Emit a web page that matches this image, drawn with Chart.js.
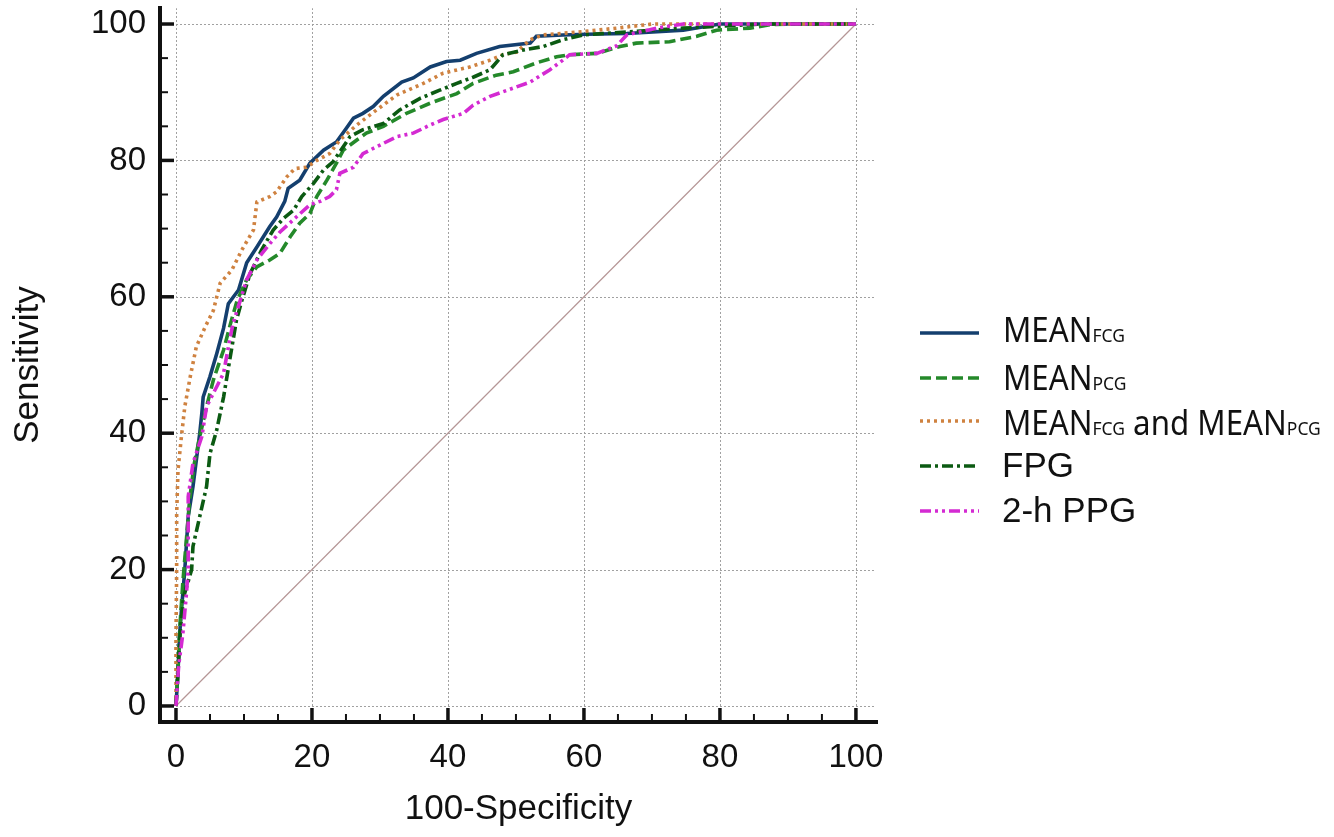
<!DOCTYPE html>
<html>
<head>
<meta charset="utf-8">
<script src="https://cdn.jsdelivr.net/npm/chart.js@4.4.1/dist/chart.umd.min.js"></script>
<style>
  html, body { margin: 0; padding: 0; background: #fff; }
  #wrap { position: relative; width: 1334px; height: 837px; }
  #roc { position: absolute; left: 0; top: 0; }
  #legend { position: absolute; left: 0; top: 0; pointer-events: none; }
</style>
</head>
<body>
<div id="wrap">
  <canvas id="roc" width="1334" height="837"></canvas>
  <svg id="legend" width="1334" height="837"></svg>
</div>
<script>
// ROC curves: x = 100-Specificity, y = Sensitivity
const fcgX = [0, 0.3, 0.5, 0.8, 1.3, 1.8, 2.5, 3.0, 3.5, 3.8, 4.0, 5.0, 6.0, 7.0, 7.7, 9.2, 10.4, 11.9, 13.8, 14.8, 16.0, 16.5, 18.2, 19.7, 21.7, 23.6, 24.9, 26.1, 27.5, 29.0, 30.5, 33.2, 34.9, 37.4, 39.8, 41.8, 44.2, 47.6, 52.1, 53.0, 56.9, 60.4, 66.3, 74.6, 80, 100];
const fcgY = [0, 5, 10, 14, 20, 27.8, 32.2, 36.1, 40, 42.9, 45.3, 48.3, 51.7, 55.4, 59, 61, 65, 67.3, 70.3, 71.7, 74, 75.9, 77.1, 79.6, 81.5, 82.7, 84.5, 86.2, 86.9, 87.9, 89.4, 91.5, 92.1, 93.7, 94.5, 94.7, 95.7, 96.7, 97.2, 98.2, 98.4, 98.5, 98.6, 99.1, 100, 100];

const pcgX = [0, 0.3, 0.6, 1.0, 1.5, 2.0, 2.7, 3.5, 4.5, 5.5, 7.0, 8.0, 9.0, 10.4, 11.9, 13.8, 15.3, 16.8, 18.2, 19.7, 20.7, 22.2, 23.6, 24.6, 26.6, 28, 30.5, 33.9, 37.4, 41.3, 43.7, 47.1, 49.6, 53, 56, 57.9, 61.9, 65.3, 67.7, 72.6, 76.6, 79.5, 84.4, 87.4, 90, 100];
const pcgY = [0, 6, 12, 18, 24, 30.2, 35.6, 39.5, 43.9, 47.8, 52.2, 56, 59.5, 62.5, 64.4, 65.4, 66.4, 68.8, 70.8, 72.2, 74.7, 77.1, 79.6, 81.5, 83, 84, 85, 86.9, 88.4, 89.8, 91.3, 92.5, 93, 94.3, 95.2, 95.5, 95.7, 96.7, 97.2, 97.4, 98.2, 99.1, 99.4, 99.9, 100, 100];

const bothX = [0, 0, 0.1, 0.1, 0.3, 0.8, 1.3, 2.1, 3.0, 4.4, 5.5, 6.5, 8.2, 9.7, 11.4, 11.9, 13.8, 14.8, 16.3, 17.5, 19.2, 20.7, 22.6, 24.1, 26.6, 29.5, 32.5, 36.4, 39.3, 43.2, 46.2, 48.1, 50.1, 52.1, 54, 59.9, 64.9, 70, 100];
const bothY = [0, 10, 20, 28.2, 34.6, 39.5, 43.9, 48.3, 52.7, 55.8, 58, 62, 63.9, 66.9, 69.8, 73.9, 74.7, 75.4, 77.6, 78.8, 79, 80, 81, 83, 85.2, 87.4, 89.6, 91.3, 92.8, 93.7, 94.7, 95.5, 95.9, 97.7, 98.4, 98.9, 99.4, 100, 100];

const fpgX = [0, 0.3, 0.6, 1.1, 2.3, 2.5, 3.5, 4.5, 5.0, 6.0, 7.0, 7.9, 8.9, 9.7, 10.9, 12.6, 14.3, 15.8, 17.3, 18.5, 20.2, 21.7, 23.1, 24.6, 25.6, 27.5, 30.5, 32.9, 35.9, 38.8, 41.3, 43.7, 46.2, 48.1, 51.1, 54, 56.9, 59.9, 74.6, 86.3, 100];
const fpgY = [0, 5, 10.5, 15.9, 20, 23.4, 27.8, 32.2, 37, 40.5, 45.3, 50.7, 56.6, 59.5, 63.4, 66.9, 69.8, 71.5, 72.7, 74.7, 76.6, 78.6, 79.8, 82, 83.5, 84.5, 85.4, 87.4, 89.1, 90.3, 91.3, 92.2, 93.3, 95.5, 96.2, 96.7, 97.7, 98.4, 99.4, 100, 100];

const ppgX = [0, 0.4, 1.0, 1.5, 1.8, 1.8, 1.8, 2.5, 3.8, 4.5, 7.0, 7.9, 8.4, 10.4, 11.9, 13.8, 15.3, 17.7, 19.7, 21.2, 22.6, 23.6, 24.1, 26.1, 27.5, 30.5, 32.5, 34.9, 37.4, 39.3, 42.3, 43.7, 46.2, 49.6, 52.1, 55, 56.9, 57.9, 61.9, 64.8, 66.3, 70.7, 74.6, 100];
const ppgY = [0, 6, 10.5, 16, 20, 25, 30.7, 35.6, 39.5, 43.9, 48.8, 53.7, 56.1, 62.5, 65.4, 67.8, 69.5, 71.7, 73.5, 74, 74.7, 75.7, 78.1, 79, 81, 82.5, 83.5, 84, 85.2, 86, 86.9, 88.1, 89.4, 90.6, 91.5, 93.3, 94.7, 95.5, 95.7, 96.8, 98.4, 99.4, 100, 100];

const refX = [0, 100];
const refY = [0, 100];

const tickValues = [0, 20, 40, 60, 80, 100];
const seriesNames = ['MEAN_FCG', 'MEAN_PCG', 'MEAN_FCG and MEAN_PCG', 'FPG', '2-h PPG'];

const colors = ['#143f6e', '#24892a', '#cf8240', '#0b5a12', '#d42ad2'];
const dashes = [[], [11, 5], [3, 4], [11, 4, 3, 4], [11, 4, 3, 4, 3, 4]];

const pts = (xs, ys) => xs.map((x, i) => ({ x: x, y: ys[i] }));

const curves = [[fcgX, fcgY], [pcgX, pcgY], [bothX, bothY], [fpgX, fpgY], [ppgX, ppgY]];

const datasets = curves.map((c, i) => ({
  label: seriesNames[i],
  data: pts(c[0], c[1]),
  showLine: true,
  borderColor: colors[i],
  borderWidth: 3.6,
  borderDash: dashes[i],
  pointRadius: 0,
  tension: 0,
  order: 5 - i
}));
datasets.push({
  label: 'reference',
  data: pts(refX, refY),
  showLine: true,
  borderColor: '#b59696',
  borderWidth: 1.2,
  pointRadius: 0,
  order: 10
});

// dotted grid that starts at 0, plus inward tick marks like the original
const gridAndTicks = {
  id: 'gridAndTicks',
  beforeDatasetsDraw(chart) {
    const { ctx, scales: { x, y } } = chart;
    ctx.save();
    ctx.strokeStyle = '#a0a0a0';
    ctx.lineWidth = 1;
    ctx.setLineDash([2, 2]);
    tickValues.forEach(v => {
      const px = Math.round(x.getPixelForValue(v)) + 0.5;
      ctx.beginPath();
      ctx.moveTo(px, y.getPixelForValue(0));
      ctx.lineTo(px, y.getPixelForValue(102.3));
      ctx.stroke();
      const py = Math.round(y.getPixelForValue(v)) + 0.5;
      ctx.beginPath();
      ctx.moveTo(x.getPixelForValue(0), py);
      ctx.lineTo(x.getPixelForValue(102.8), py);
      ctx.stroke();
    });
    ctx.restore();
  },
  afterDraw(chart) {
    const { ctx, chartArea, scales: { x, y } } = chart;
    ctx.save();
    ctx.strokeStyle = '#111';
    for (let v = 0; v <= 100; v += 5) {
      const major = v % 20 === 0;
      ctx.lineWidth = major ? 3.5 : 2;
      const len = major ? 14 : 8;
      const py = y.getPixelForValue(v);
      ctx.beginPath();
      ctx.moveTo(chartArea.left, py);
      ctx.lineTo(chartArea.left + len, py);
      ctx.stroke();
      const px = x.getPixelForValue(v);
      ctx.beginPath();
      ctx.moveTo(px, chartArea.bottom);
      ctx.lineTo(px, chartArea.bottom - len);
      ctx.stroke();
    }
    ctx.restore();
  }
};

const fixTicks = scale => { scale.ticks = tickValues.map(v => ({ value: v })); };
const tickFont = { family: 'Liberation Sans, Arial, sans-serif', size: 33 };
const titleFont = { family: 'Liberation Sans, Arial, sans-serif', size: 35 };

new Chart(document.getElementById('roc').getContext('2d'), {
  type: 'scatter',
  data: { datasets: datasets },
  options: {
    responsive: false,
    animation: false,
    layout: { padding: { left: 0, right: 457, top: 8, bottom: 0 } },
    plugins: { legend: { display: false }, tooltip: { enabled: false } },
    scales: {
      x: {
        type: 'linear',
        min: -2.35,
        max: 103.1,
        afterBuildTicks: fixTicks,
        afterFit: s => { s.height = 115; s.paddingLeft = 0; s.paddingRight = 0; },
        grid: { display: false, drawTicks: false },
        border: { display: true, color: '#111', width: 4 },
        ticks: { color: '#111', font: tickFont, padding: 16, maxRotation: 0 },
        title: { display: true, text: '100-Specificity', color: '#111', font: titleFont, padding: { top: 0, bottom: 7 } }
      },
      y: {
        type: 'linear',
        min: -2.35,
        max: 102.35,
        afterBuildTicks: fixTicks,
        afterFit: s => { s.width = 160; s.paddingTop = 0; s.paddingBottom = 0; },
        grid: { display: false, drawTicks: false },
        border: { display: true, color: '#111', width: 4 },
        ticks: { color: '#111', font: tickFont, padding: 14 },
        title: { display: true, text: 'Sensitivity', color: '#111', font: titleFont, padding: { top: 7, bottom: 0 } }
      }
    }
  },
  plugins: [gridAndTicks]
});

// legend on the right, with small subscripts as in the figure
const NS = 'http://www.w3.org/2000/svg';
const svg = document.getElementById('legend');
const rowLineY = [333, 378, 421, 466, 511];
const rowBase = [342, 390, 435, 477, 522];

function add(parent, tag, attrs, text) {
  const el = document.createElementNS(NS, tag);
  Object.keys(attrs).forEach(k => el.setAttribute(k, attrs[k]));
  if (text) el.textContent = text;
  parent.appendChild(el);
  return el;
}

seriesNames.forEach((name, i) => {
  add(svg, 'line', {
    x1: 920, x2: 979, y1: rowLineY[i], y2: rowLineY[i],
    stroke: colors[i], 'stroke-width': 3.5,
    'stroke-dasharray': dashes[i].length ? dashes[i].join(' ') : 'none'
  });
  const parts = name.split(/(_FCG|_PCG)/).filter(p => p);
  const isMean = name.indexOf('MEAN') === 0;
  const t = add(svg, 'text', isMean ? {
    x: 0, y: 0, fill: '#111',
    transform: 'translate(1003,' + rowBase[i] + ') scale(0.92,1)',
    'font-family': 'Noto Sans, Open Sans, sans-serif', 'font-size': 34
  } : {
    x: 1002, y: rowBase[i], fill: '#111',
    'font-family': 'Liberation Sans, Arial, sans-serif', 'font-size': 35
  });
  parts.forEach(p => {
    if (p === '_FCG' || p === '_PCG') add(t, 'tspan', { 'font-size': 19 }, p.slice(1));
    else add(t, 'tspan', {}, p);
  });
});
</script>
</body>
</html>
